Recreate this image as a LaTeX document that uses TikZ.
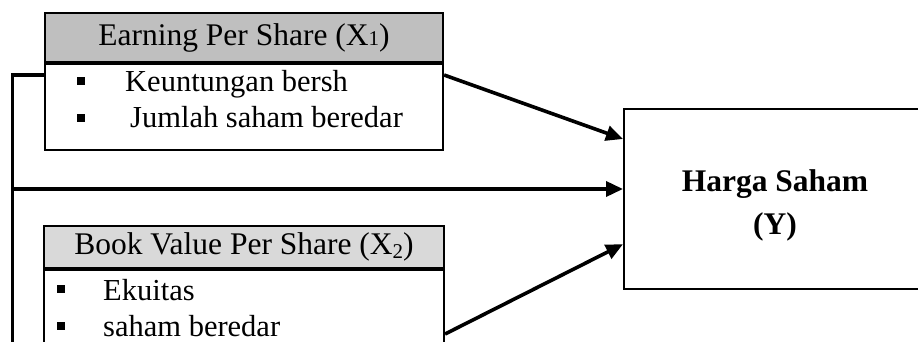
\documentclass[tikz,border=0pt]{standalone}
\usepackage{fontspec}
\setmainfont{Liberation Serif}
\usepackage{tikz}
\usetikzlibrary{positioning}
\usetikzlibrary{arrows.meta}

\definecolor{headgray}{RGB}{191,191,191}
\definecolor{headlight}{RGB}{217,217,217}

\begin{document}
\begin{tikzpicture}[x=1pt,y=-1pt,>={Triangle[length=17pt,width=15pt]},
  box/.style={draw,line width=2.2pt,rectangle,inner sep=0pt},
  head/.style={box,font=\fontsize{31.5}{36}\selectfont},
  item/.style={anchor=base west,inner sep=0pt,font=\fontsize{30.5}{36}\selectfont},
  dot/.style={fill=black,minimum size=8.5pt,inner sep=0pt},
  link/.style={line width=3.6pt}]

	\useasboundingbox (0,0) rectangle (918,342);
	\clip (0,0) rectangle (918,342);

	% X1
	\node[head,fill=headgray,minimum width=398pt,minimum height=49pt] (eps) at (244,37.5) {Earning Per Share (X{\fontsize{21}{21}\selectfont 1})};
	\node[box,minimum width=398pt,minimum height=86pt,below=0pt of eps] (epsbody) {};
	\node[dot] (eb1) at (81,81) {};
	\node[dot] (eb2) at (81,118) {};
	\node[item] (laba) at (125,92) {Keuntungan bersh};
	\node[item] (jumlah) at (130,128) {Jumlah saham beredar};

	% X2
	\node[head,fill=headlight,minimum width=400pt,minimum height=42pt] (bvps) at (244,247) {Book Value Per Share (X\raisebox{-0.25ex}{\fontsize{21}{21}\selectfont 2})};
	\node[box,minimum width=400pt,minimum height=92pt,below=0pt of bvps] (bvpsbody) {};
	\node[dot] (bb1) at (61,289) {};
	\node[dot] (bb2) at (61,326) {};
	\node[item] (ekuitas) at (103,300) {Ekuitas};
	\node[item] (beredar) at (103,336) {saham beredar};

	% Y
	\node[box,minimum width=340pt,minimum height=180pt,anchor=north west] (harga) at (623,108) {};
	\node[align=center,font=\bfseries\fontsize{31.5}{43}\selectfont] (hargatxt) at (775,205) {Harga Saham\\(Y)};

	\coordinate (lt) at (12.5,75);
	\coordinate (lm) at (12.5,189);
	\coordinate (lb) at (12.5,360);

	\draw[link] (lb) -- (lt) -- (lt -| epsbody.west);
	\draw[link,->] (lm) -- (lm -| harga.west);
	\draw[link,->] (lt -| epsbody.east) -- ([yshift=-31pt]harga.north west);
	\draw[link,->] (bvpsbody.east |- 0,334) -- ([yshift=46pt]harga.south west);
\end{tikzpicture}
\end{document}
